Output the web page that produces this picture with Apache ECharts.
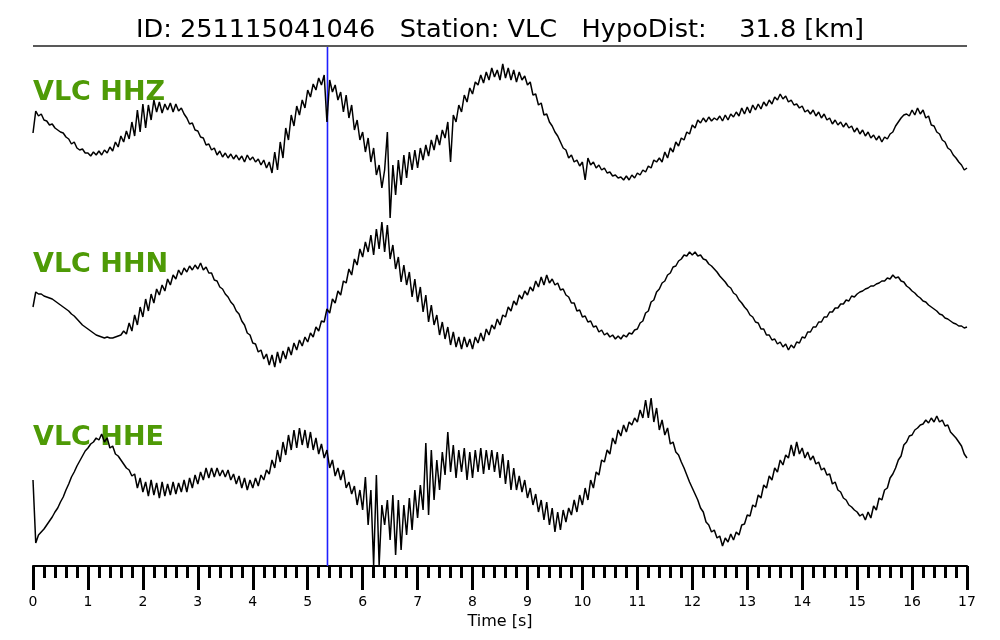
<!DOCTYPE html>
<html>
<head>
<meta charset="utf-8">
<script src="https://cdn.jsdelivr.net/npm/echarts@6/dist/echarts.min.js"></script>
<style>
html,body{margin:0;padding:0;background:#fff;}
#chart{width:1000px;height:640px;}
</style>
</head>
<body>
<div id="chart"></div>
<script>
// ---- data ----
const titleText = 'ID: 251115041046   Station: VLC   HypoDist:    31.8 [km]';
const traceNames = ['VLC HHZ', 'VLC HHN', 'VLC HHE'];
const sampleStep = 0.05;       // seconds between samples
const pickTime = 5.36;         // blue pick line [s]
const timeTicks = [0,1,2,3,4,5,6,7,8,9,10,11,12,13,14,15,16,17];
const xLabel = 'Time [s]';

const hhz = [
 7,29,24,26,20,19,15,16,12,10,8,7,3,1,-4,-2,-8,-10,-9,-13,
 -13,-16,-12,-15,-11,-15,-10,-13,-7,-11,-2,-7,4,-2,9,1,18,4,30,8,
 36,12,35,20,40,28,38,27,36,30,37,28,36,29,32,26,22,16,17,10,
 9,3,2,-5,-4,-10,-8,-15,-11,-17,-13,-18,-14,-19,-15,-20,-16,-22,-15,-20,
 -17,-22,-19,-25,-20,-28,-22,-33,-12,-30,-2,-18,12,0,25,14,34,25,40,32,
 50,43,56,50,62,55,65,18,60,48,55,40,48,28,45,22,35,10,20,0,
 8,-12,2,-22,-8,-35,-25,-48,-30,8,-78,-25,-55,-20,-45,-15,-38,-12,-30,-10,
 -28,-8,-20,-5,-16,0,-10,5,-5,10,2,18,-22,25,18,35,28,45,38,52,
 46,58,55,65,57,68,60,72,63,70,60,76,62,72,60,70,58,68,60,64,
 55,58,45,46,35,37,25,26,18,14,8,4,-2,-8,-10,-18,-15,-22,-20,-26,
 -22,-40,-18,-25,-22,-28,-25,-30,-28,-33,-32,-36,-35,-38,-37,-40,-36,-40,-35,-38,
 -33,-35,-30,-32,-26,-28,-20,-22,-18,-22,-12,-18,-8,-12,-2,-6,2,0,8,6,
 15,12,20,17,22,18,23,19,22,20,24,19,25,20,26,23,28,24,32,26,
 33,27,35,30,36,31,38,34,40,36,43,40,46,41,44,38,40,35,36,32,
 34,28,30,26,30,24,28,22,26,20,22,16,20,15,18,13,17,12,14,8,
 12,6,10,4,8,2,5,0,4,-2,3,1,6,8,14,18,22,25,26,24,
 30,25,32,26,30,22,24,15,14,8,6,0,-2,-8,-10,-15,-18,-22,-25,-30,
 -28
];

const hhn = [
 -10,5,3,3,1,0,-1,-2,-4,-6,-8,-10,-12,-14,-17,-19,-22,-25,-28,-30,
 -32,-34,-36,-38,-39,-40,-41,-40,-41,-41,-40,-39,-38,-34,-37,-26,-34,-18,-28,-10,
 -20,-2,-14,3,-6,8,2,12,6,18,12,22,18,27,22,29,25,31,27,32,
 28,34,27,30,24,24,17,16,10,8,3,0,-5,-8,-14,-17,-24,-28,-36,-38,
 -46,-47,-55,-53,-62,-57,-68,-58,-70,-55,-66,-54,-62,-50,-58,-46,-53,-43,-49,-40,
 -45,-36,-40,-30,-34,-24,-25,-12,-16,-2,-6,6,2,16,14,28,22,38,32,48,
 40,55,45,62,42,68,48,75,45,72,38,52,28,40,15,32,12,25,0,18,
 -5,10,-15,2,-25,-8,-28,-18,-38,-25,-42,-30,-48,-35,-50,-40,-52,-40,-50,-42,
 -52,-40,-46,-36,-44,-32,-38,-28,-32,-22,-28,-18,-20,-10,-14,-4,-8,2,-2,6,
 2,10,6,16,10,20,12,22,14,18,12,14,7,8,2,0,-6,-6,-14,-13,
 -20,-19,-25,-24,-30,-29,-35,-33,-38,-36,-40,-38,-42,-39,-42,-38,-40,-36,-37,-33,
 -32,-26,-24,-16,-14,-5,-3,5,8,14,16,22,24,30,31,36,38,42,41,45,
 42,45,41,42,38,37,33,31,28,25,21,18,15,11,9,4,2,-3,-6,-10,
 -13,-18,-20,-25,-26,-32,-32,-38,-38,-43,-42,-47,-45,-50,-47,-53,-48,-51,-45,-46,
 -40,-41,-35,-35,-30,-30,-25,-25,-20,-20,-15,-15,-11,-11,-7,-7,-3,-4,1,0,
 3,5,6,8,9,11,11,13,14,16,16,19,18,22,19,20,16,15,11,9,
 6,4,1,-1,-4,-5,-8,-10,-12,-14,-17,-18,-21,-22,-24,-26,-27,-29,-29,-31,
 -30
];

const hhe = [
 0,-63,-55,-52,-49,-45,-41,-37,-32,-28,-22,-17,-10,-4,3,8,14,19,24,29,
 32,36,38,42,40,46,38,42,32,34,26,24,20,16,12,10,4,6,-8,2,
 -12,-2,-16,0,-15,-3,-18,-2,-16,-4,-15,-2,-14,-3,-12,0,-12,2,-8,5,
 -4,8,0,12,2,12,3,12,4,10,3,10,0,6,-4,4,-8,2,-10,0,
 -8,2,-6,5,0,10,6,20,12,30,18,38,25,45,30,50,32,52,35,50,
 32,48,30,42,26,36,22,30,12,20,4,12,0,10,-8,-2,-14,-6,-25,-10,
 -30,3,-45,-10,-85,5,-85,-25,-45,-20,-60,-15,-75,-20,-70,-25,-55,-18,-50,-10,
 -38,-5,-30,37,-35,30,-20,20,-10,28,5,48,8,35,2,30,8,32,0,28,
 2,30,8,32,6,30,10,30,8,28,2,26,-4,20,-10,12,-10,4,-12,0,
 -18,-8,-25,-14,-32,-20,-40,-22,-45,-28,-52,-32,-50,-30,-42,-28,-35,-20,-32,-15,
 -25,-8,-20,0,-8,8,5,20,18,30,26,42,36,50,44,55,48,58,55,62,
 58,70,62,80,62,82,58,72,50,60,45,52,36,38,28,25,18,12,5,-2,
 -8,-14,-20,-28,-32,-42,-45,-52,-50,-58,-56,-66,-58,-62,-54,-60,-52,-55,-45,-44,
 -35,-36,-25,-27,-15,-18,-5,-8,4,0,12,8,20,15,25,22,35,24,38,26,
 32,22,28,20,24,16,18,10,12,5,6,-4,-2,-10,-12,-18,-20,-25,-27,-30,
 -32,-36,-34,-40,-32,-38,-26,-30,-18,-20,-10,-8,2,6,12,20,24,35,38,44,
 45,50,52,55,56,60,57,62,58,64,58,60,54,55,48,45,42,38,34,26,
 22
];

// ---- chart ----
const FONT = 'DejaVu Sans';
const traces = [hhz, hhn, hhe];
const gridTops = [55, 212, 395];
const labelY = [92, 264, 437];

function toPairs(arr) {
  return arr.map((v, i) => [+(i * sampleStep).toFixed(2), v]);
}

const grids = [];
const xAxes = [];
const yAxes = [];
const series = [];

traces.forEach((tr, k) => {
  grids.push({left: 33, right: 33, top: gridTops[k], height: 170, containLabel: false});
  xAxes.push({type: 'value', gridIndex: k, min: 0, max: 17, show: false});
  yAxes.push({type: 'value', gridIndex: k, min: -85, max: 85, show: false});
  series.push({
    type: 'line', xAxisIndex: k, yAxisIndex: k, data: toPairs(tr),
    showSymbol: false, symbol: 'none', clip: false, z: 3,
    lineStyle: {color: '#000', width: 1.5}, silent: true
  });
});

// axis grid (full plot height) carrying the time axis and the pick line
grids.push({left: 33, right: 33, top: 47, bottom: 74});
xAxes.push({
  type: 'value', gridIndex: 3, min: 0, max: 17, interval: 1,
  position: 'bottom',
  axisLine: {show: true, onZero: false, lineStyle: {color: '#000', width: 2}},
  axisTick: {show: true, length: 24, lineStyle: {color: '#000', width: 3}},
  minorTick: {show: true, splitNumber: 5, length: 12, lineStyle: {color: '#000', width: 3}},
  splitLine: {show: false},
  axisLabel: {
    show: true, margin: 29, fontSize: 14, fontFamily: FONT, color: '#000',
    formatter: v => timeTicks.includes(v) ? String(v) : ''
  },
  name: xLabel, nameLocation: 'middle', nameGap: 43,
  nameTextStyle: {fontSize: 16, fontFamily: FONT, color: '#000'}
});
yAxes.push({type: 'value', gridIndex: 3, min: 0, max: 1, show: false});
series.push({
  type: 'line', xAxisIndex: 3, yAxisIndex: 3,
  data: [[pickTime, 0], [pickTime, 1]],
  showSymbol: false, symbol: 'none', z: 2, silent: true,
  lineStyle: {color: '#1f1fff', width: 1.6}
});

const graphic = [
  {type: 'line', shape: {x1: 33, y1: 46, x2: 967, y2: 46},
   style: {stroke: '#222', lineWidth: 1.5}, z: 1, silent: true}
];
traceNames.forEach((nm, k) => {
  graphic.push({
    type: 'text', left: 33, top: labelY[k] - 13, z: 1, silent: true,
    style: {text: nm, fill: '#4e9a06', font: 'bold 27px "' + FONT + '"'}
  });
});

const chart = echarts.init(document.getElementById('chart'), null, {renderer: 'canvas'});
chart.setOption({
  animation: false,
  backgroundColor: '#fff',
  title: {
    text: titleText, left: 'center', top: 12,
    textStyle: {fontSize: 25.6, fontWeight: 'normal', fontFamily: FONT, color: '#000'}
  },
  grid: grids,
  xAxis: xAxes,
  yAxis: yAxes,
  series: series,
  graphic: graphic
});
</script>
</body>
</html>
